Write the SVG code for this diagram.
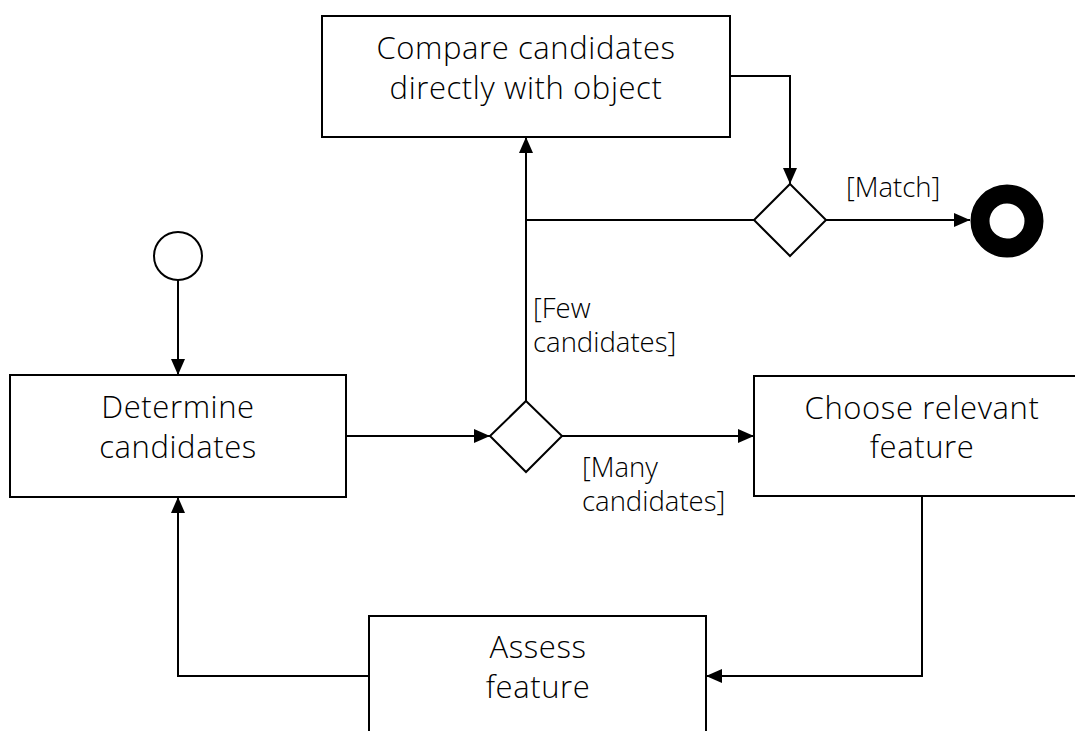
<svg xmlns="http://www.w3.org/2000/svg" width="1075" height="731" viewBox="0 0 1075 731">
<style>
.box{fill:#fff;stroke:#000;stroke-width:2}
.dia{fill:#fff;stroke:#000;stroke-width:2}
.t{font-family:"Open Sans","Noto Sans",sans-serif;font-size:31px;font-weight:300;letter-spacing:0.6px;fill:#000;text-anchor:middle}
.l{font-family:"Open Sans","Noto Sans",sans-serif;font-size:27.5px;font-weight:300;fill:#000}
.c{fill:none;stroke:#000;stroke-width:2}
</style>
<defs>
<marker id="arr" markerUnits="userSpaceOnUse" markerWidth="16" markerHeight="14" refX="16" refY="7" orient="auto">
<path d="M0,0 L16,7 L0,14 z" fill="#000"/>
</marker>
</defs>
<rect width="1075" height="731" fill="#fff"/>
<g id="connectors">
<path class="c" d="M178,280 L178,375" marker-end="url(#arr)"/>
<path class="c" d="M346,436 L490,436" marker-end="url(#arr)"/>
<path class="c" d="M562,436 L754,436" marker-end="url(#arr)"/>
<path class="c" d="M526,401 L526,137" marker-end="url(#arr)"/>
<path class="c" d="M754,220 L526,220"/>
<path class="c" d="M730,76 L790,76 L790,184" marker-end="url(#arr)"/>
<path class="c" d="M826,220 L970,220" marker-end="url(#arr)"/>
<path class="c" d="M922,496 L922,676 L706,676" marker-end="url(#arr)"/>
<path class="c" d="M369,676 L178,676 L178,497" marker-end="url(#arr)"/>
<text class="l" x="846" y="197">[Match]</text>
<text class="l" x="533" y="318">[Few</text>
<text class="l" x="533" y="352">candidates]</text>
<text class="l" x="582" y="477">[Many</text>
<text class="l" x="582" y="511">candidates]</text>
</g>
<g id="start"><circle cx="178" cy="256" r="24" fill="#fff" stroke="#000" stroke-width="2"/></g>
<g id="end"><circle cx="1007" cy="221" r="27" fill="#fff" stroke="#000" stroke-width="19"/></g>
<g id="compare">
<rect class="box" x="322" y="16" width="408" height="121"/>
<text class="t" x="526" y="59">Compare candidates</text>
<text class="t" x="526" y="99">directly with object</text>
</g>
<g id="decision-match"><path class="dia" d="M790,184 L826,220 L790,256 L754,220 z"/></g>
<g id="determine">
<rect class="box" x="10" y="375" width="336" height="122"/>
<text class="t" x="178" y="418">Determine</text>
<text class="t" x="178" y="458">candidates</text>
</g>
<g id="decision-count"><path class="dia" d="M526,401 L562,436 L526,472 L490,436 z"/></g>
<g id="choose">
<rect class="box" x="754" y="376" width="336" height="120"/>
<text class="t" x="922" y="419">Choose relevant</text>
<text class="t" x="922" y="458">feature</text>
</g>
<g id="assess">
<rect class="box" x="369" y="616" width="337" height="130"/>
<text class="t" x="538" y="658">Assess</text>
<text class="t" x="538" y="698">feature</text>
</g>
</svg>
